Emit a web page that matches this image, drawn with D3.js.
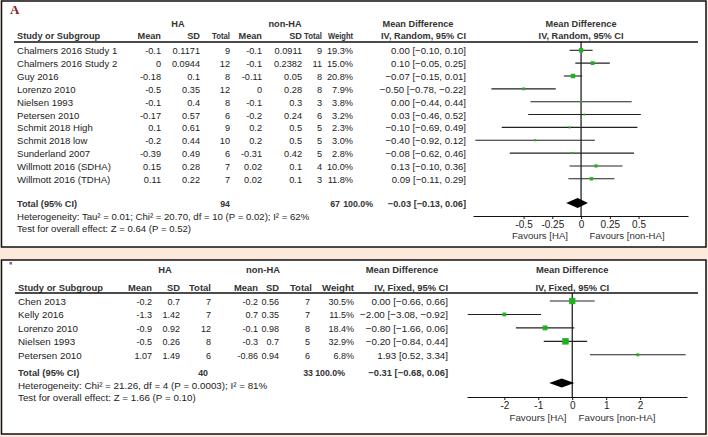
<!DOCTYPE html>
<html><head><meta charset="utf-8">
<script src="https://cdn.jsdelivr.net/npm/d3@7"></script>
<style>
html,body{margin:0;padding:0;background:#fde9dc;}
svg{display:block;font-family:"Liberation Sans",Arial,sans-serif;}
</style></head><body>
<svg id="c" width="708" height="437"></svg>
<script>
// ---------- Panel A data ----------
const studiesA = ["Chalmers 2016 Study 1","Chalmers 2016 Study 2","Guy 2016","Lorenzo 2010","Nielsen 1993","Petersen 2010","Schmit 2018 High","Schmit 2018 low","Sunderland 2007","Willmott 2016 (SDHA)","Willmott 2016 (TDHA)"];
const haMeanA = ["-0.1","0","-0.18","-0.5","-0.1","-0.17","0.1","-0.2","-0.39","0.15","0.11"];
const haSdA = ["0.1171","0.0944","0.1","0.35","0.4","0.57","0.61","0.44","0.49","0.28","0.22"];
const haTotA = [9,12,8,12,8,6,9,10,6,7,7];
const nonMeanA = ["-0.1","-0.1","-0.11","0","-0.1","-0.2","0.2","0.2","-0.31","0.02","0.02"];
const nonSdA = ["0.0911","0.2382","0.05","0.28","0.3","0.24","0.5","0.5","0.42","0.1","0.1"];
const nonTotA = [9,11,8,8,3,6,5,5,5,4,3];
const weightA = [19.3,15.0,20.8,7.9,3.8,3.2,2.3,3.0,2.8,10.0,11.8];
const mdA = [0.00,0.10,-0.07,-0.50,0.00,0.03,-0.10,-0.40,-0.08,0.13,0.09];
const loA = [-0.10,-0.05,-0.15,-0.78,-0.44,-0.46,-0.69,-0.92,-0.62,-0.10,-0.11];
const hiA = [0.10,0.25,0.01,-0.22,0.44,0.52,0.49,0.12,0.46,0.36,0.29];
const totalA = {ha:94, non:67, weight:"100.0%", md:-0.03, lo:-0.13, hi:0.06};
const hetA = "Heterogeneity: Tau\u00b2 = 0.01; Chi\u00b2 = 20.70, df = 10 (P = 0.02); I\u00b2 = 62%";
const testA = "Test for overall effect: Z = 0.64 (P = 0.52)";
const ticksA = [-0.5,-0.25,0,0.25,0.5];
const tickLabelsA = ["-0.5","-0.25","0","0.25","0.5"];

// ---------- Panel B data ----------
const studiesB = ["Chen 2013","Kelly 2016","Lorenzo 2010","Nielsen 1993","Petersen 2010"];
const haMeanB = ["-0.2","-1.3","-0.9","-0.5","1.07"];
const haSdB = ["0.7","1.42","0.92","0.26","1.49"];
const haTotB = [7,7,12,8,6];
const nonMeanB = ["-0.2","0.7","-0.1","-0.3","-0.86"];
const nonSdB = ["0.56","0.35","0.98","0.7","0.94"];
const nonTotB = [7,7,8,5,6];
const weightB = [30.5,11.5,18.4,32.9,6.8];
const mdB = [0.00,-2.00,-0.80,-0.20,1.93];
const loB = [-0.66,-3.08,-1.66,-0.84,0.52];
const hiB = [0.66,-0.92,0.06,0.44,3.34];
const totalB = {ha:40, non:33, weight:"100.0%", md:-0.31, lo:-0.68, hi:0.06};
const hetB = "Heterogeneity: Chi\u00b2 = 21.26, df = 4 (P = 0.0003); I\u00b2 = 81%";
const testB = "Test for overall effect: Z = 1.66 (P = 0.10)";
const ticksB = [-2,-1,0,1,2];
const tickLabelsB = ["-2","-1","0","1","2"];

const svg = d3.select("#c");
const fmt2 = d3.format(".2f");
const ciText = (m,l,h) => `${fmt2(m)} [${fmt2(l)}, ${fmt2(h)}]`;

function panel(cfg){
  const g = svg.append("g");
  g.append("rect").attr("x",cfg.x0).attr("y",cfg.y0).attr("width",cfg.x1-cfg.x0).attr("height",cfg.y1-cfg.y0)
    .attr("fill","#fff").attr("stroke","#111").attr("stroke-width",1.5);
  const hdr = "#333", txt = "#222";
  const fs = cfg.fs, nfs = cfg.nfs, hfs = cfg.hfs;
  function t(x,y,s,anchor,bold,col,size,len){
    const e = g.append("text").attr("x",x).attr("y",y).attr("text-anchor",anchor||"start")
      .attr("font-size",size||fs).attr("font-weight",bold?"bold":"normal").attr("fill",col||txt).text(s);
    if(len) e.attr("textLength",len).attr("lengthAdjust","spacingAndGlyphs");
    return e;
  }
  const c = cfg.cols, hw = cfg.hdrW;
  // group headers
  t(c.haCenter, cfg.grpY, "HA","middle",true,hdr,hfs);
  t(c.nonCenter, cfg.grpY, "non-HA","middle",true,hdr,hfs);
  t(c.mdCenter, cfg.grpY, "Mean Difference","middle",true,hdr,hfs);
  t(cfg.x(0), cfg.grpY, "Mean Difference","middle",true,hdr,hfs);
  t(cfg.x(0), cfg.colY, cfg.method,"middle",true,hdr,hfs);
  // column headers
  t(c.study, cfg.colY, "Study or Subgroup","start",true,hdr,hfs);
  t(c.haMean, cfg.colY, "Mean","end",true,hdr,hfs);
  t(c.haSd, cfg.colY, "SD","end",true,hdr,hfs);
  t(c.haTot, cfg.colY, "Total","end",true,hdr,hfs,hw.total);
  t(c.nonMean, cfg.colY, "Mean","end",true,hdr,hfs);
  t(c.nonSd, cfg.colY, "SD","end",true,hdr,hfs);
  t(c.nonTotH, cfg.colY, "Total","end",true,hdr,hfs,hw.total);
  t(c.weight, cfg.colY, "Weight","end",true,hdr,hfs,hw.weight);
  t(c.ci, cfg.colY, cfg.method,"end",true,hdr,hfs);
  g.append("line").attr("x1",c.study-3).attr("x2",cfg.lineEnd).attr("y1",cfg.lineY).attr("y2",cfg.lineY)
    .attr("stroke","#111").attr("stroke-width",1.3);
  const yRow = i => cfg.rowY0 + i*cfg.rowStep;
  const d = cfg.data;
  d.studies.forEach((s,i)=>{
    const y = yRow(i)+3.5;
    t(c.study,y,s);
    t(c.haMean,y,d.haMean[i],"end",false,txt,nfs);
    t(c.haSd,y,d.haSd[i],"end",false,txt,nfs);
    t(c.haTot,y,d.haTot[i],"end",false,txt,nfs);
    t(c.nonMean,y,d.nonMean[i],"end",false,txt,nfs);
    t(c.nonSd,y,d.nonSd[i],"end",false,txt,nfs);
    t(c.nonTot,y,d.nonTot[i],"end",false,txt,nfs);
    t(c.weight,y,d.weight[i].toFixed(1)+"%","end",false,txt,nfs);
    t(c.ci,y,ciText(d.md[i],d.lo[i],d.hi[i]),"end");
  });
  // total row
  const ty = cfg.totY+3.5;
  t(c.study,ty,"Total (95% CI)","start",true,hdr,hfs);
  t(c.totHa,ty,d.total.ha,"end",true,hdr,8.8);
  t(c.totNon,ty,d.total.non,"end",true,hdr,8.8);
  t(c.totWeight,ty,d.total.weight,"end",true,hdr,8.8);
  t(c.ci,ty,ciText(d.total.md,d.total.lo,d.total.hi),"end",true,hdr,hfs);
  t(c.study,cfg.hetY+3.5,d.het);
  t(c.study,cfg.testY+3.5,d.test);

  // forest plot
  const x = cfg.x;
  g.append("line").attr("x1",x(0)).attr("x2",x(0)).attr("y1",cfg.lineY).attr("y2",cfg.axisY)
    .attr("stroke","#111").attr("stroke-width",1.2);
  const sz = d3.scaleSqrt().domain([0,d3.max(d.weight)]).range([0,cfg.maxSq]);
  d.studies.forEach((s,i)=>{
    const y = yRow(i)-0.5;
    g.append("line").attr("x1",x(d.lo[i])).attr("x2",x(d.hi[i])).attr("y1",y).attr("y2",y)
      .attr("stroke","#222").attr("stroke-width",1.1);
    const w = Math.max(2,sz(d.weight[i]));
    g.append("rect").attr("x",x(d.md[i])-w/2).attr("y",y-w/2).attr("width",w).attr("height",w)
      .attr("fill","#22b022");
  });
  const dy = cfg.diaY, dh = cfg.diaH;
  g.append("path").attr("d",`M${x(d.total.lo)},${dy}L${x(d.total.md)},${dy-dh/2}L${x(d.total.hi)},${dy}L${x(d.total.md)},${dy+dh/2}Z`)
    .attr("fill","#000");
  const axis = d3.axisBottom(x).tickValues(cfg.ticks).tickSizeInner(3).tickSizeOuter(0)
    .tickFormat((v,i)=>cfg.tickLabels[i]);
  const ag = g.append("g").attr("transform",`translate(0,${cfg.axisY})`).call(axis);
  ag.select(".domain").attr("stroke","#111").attr("stroke-width",1.2);
  ag.selectAll(".tick line").attr("stroke","#111");
  ag.selectAll("text").attr("font-size",10).attr("fill","#222").attr("dy","0.55em")
    .attr("font-family","Liberation Sans, Arial, sans-serif");
  t(cfg.favL, cfg.favY, "Favours [HA]","middle",false,"#333",fs);
  t(cfg.favR, cfg.favY, "Favours [non-HA]","middle",false,"#333",fs);
  return g;
}

// Panel A
const xA = d3.scaleLinear().domain([-0.94,0.93]).range([473,688]);
panel({
  x0:1.5,y0:1,x1:706,y1:247, fs:9.6, nfs:9.2, hfs:9.2, hdrW:{total:18, weight:25},
  grpY:27, colY:39, lineY:42, lineEnd:698,
  method:"IV, Random, 95% CI",
  cols:{study:17,haMean:161,haSd:200,haTot:230,nonMean:262,nonSd:302,nonTot:322,nonTotH:322,weight:353,ci:466,
        haCenter:178,nonCenter:285,mdCenter:418,totHa:230,totNon:340,totWeight:373},
  rowY0:50.8,rowStep:12.85,totY:203.5,hetY:216,testY:228,
  data:{studies:studiesA,haMean:haMeanA,haSd:haSdA,haTot:haTotA,nonMean:nonMeanA,nonSd:nonSdA,nonTot:nonTotA,
        weight:weightA,md:mdA,lo:loA,hi:hiA,total:totalA,het:hetA,test:testA},
  x:xA, maxSq:4.5, diaY:203, diaH:10, axisY:216, ticks:ticksA, tickLabels:tickLabelsA,
  favL:540, favR:627, favY:239
});

// Panel B
const xB = d3.scaleLinear().domain([-3.1,3.38]).range([467,687]);
panel({
  x0:1.5,y0:260,x1:706,y1:434, fs:9.8, nfs:9.0, hfs:9.4, hdrW:{total:22, weight:32},
  grpY:273, colY:291, lineY:293, lineEnd:698,
  method:"IV, Fixed, 95% CI",
  cols:{study:18,haMean:152,haSd:180,haTot:211,nonMean:258,nonSd:279,nonTot:310,nonTotH:312,weight:354,ci:448,
        haCenter:165,nonCenter:263,mdCenter:402,totHa:208,totNon:313,totWeight:345},
  rowY0:301.5,rowStep:13.45,totY:372.5,hetY:385,testY:397.5,
  data:{studies:studiesB,haMean:haMeanB,haSd:haSdB,haTot:haTotB,nonMean:nonMeanB,nonSd:nonSdB,nonTot:nonTotB,
        weight:weightB,md:mdB,lo:loB,hi:hiB,total:totalB,het:hetB,test:testB},
  x:xB, maxSq:6.5, diaY:383, diaH:9, axisY:397, ticks:ticksB, tickLabels:tickLabelsB,
  favL:538, favR:617, favY:421
});

// panel marks
svg.append("text").attr("x",10).attr("y",14).attr("font-family","Liberation Serif, serif").attr("font-weight","bold")
  .attr("font-size",13).attr("fill","#8b1a1a").text("A");
svg.append("rect").attr("x",9.5).attr("y",262).attr("width",2.5).attr("height",2.5).attr("fill","#8a5a8a");
</script></body></html>
